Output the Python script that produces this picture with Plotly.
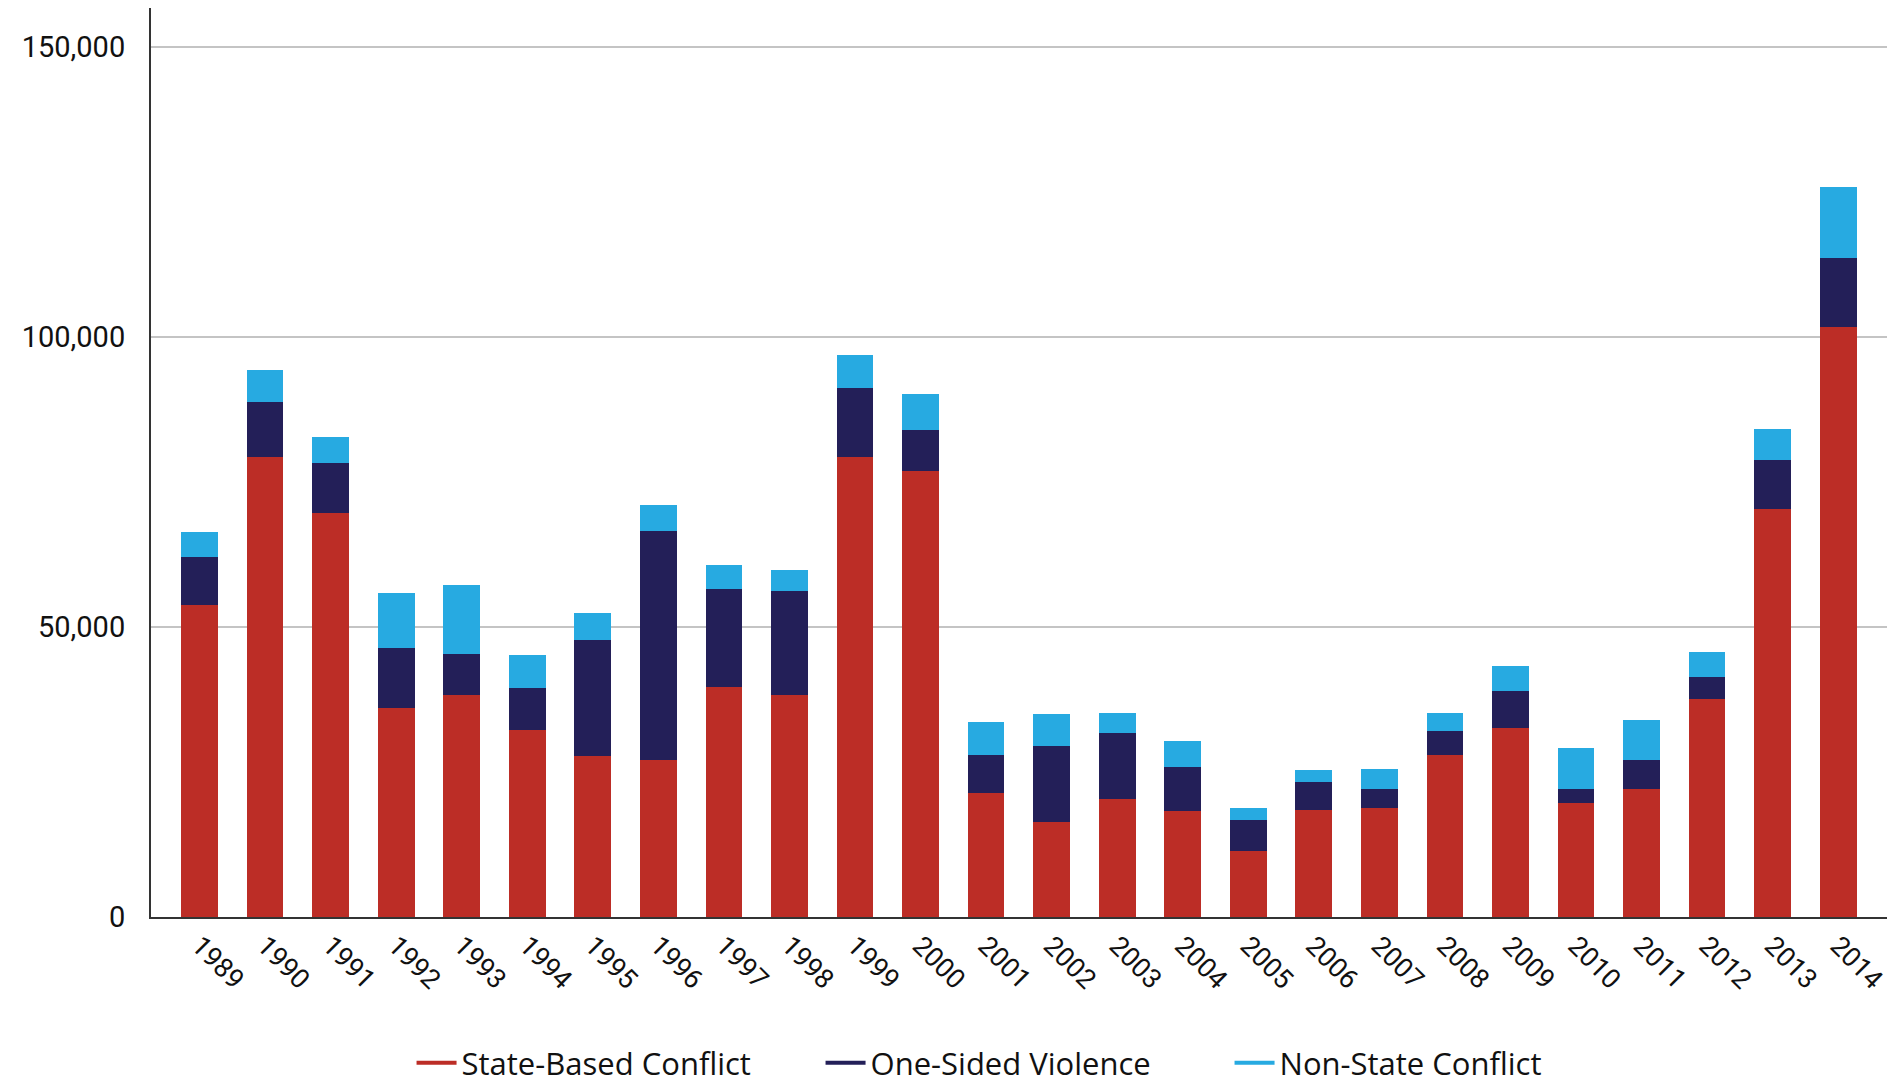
import plotly.graph_objects as go

years = [str(y) for y in range(1989, 2015)]

state_based = [53700, 79300, 69700, 36100, 38200, 32200, 27800, 27100, 39700, 38200,
               79300, 76800, 21300, 16300, 20300, 18200, 11300, 18400, 18800, 28000,
               32600, 19600, 22100, 37600, 70400, 101700]
one_sided = [8300, 9400, 8600, 10200, 7100, 7300, 20000, 39500, 16900, 18000,
             11900, 7100, 6700, 13100, 11500, 7700, 5400, 4800, 3300, 4000,
             6300, 2500, 5000, 3800, 8300, 11900]
non_state = [4400, 5600, 4400, 9600, 11900, 5600, 4600, 4400, 4000, 3700,
             5600, 6300, 5600, 5600, 3300, 4400, 2100, 2100, 3500, 3100,
             4400, 7100, 6900, 4200, 5400, 12300]

colors = {"State-Based Conflict": "#BC2D26",
          "One-Sided Violence": "#231F58",
          "Non-State Conflict": "#27AAE1"}

series = [("State-Based Conflict", state_based),
          ("One-Sided Violence", one_sided),
          ("Non-State Conflict", non_state)]

fig = go.Figure()
for name, vals in series:
    fig.add_trace(go.Bar(x=years, y=vals, name=name, marker_color=colors[name],
                         marker_line_width=0, showlegend=False))
for name, _ in series:
    fig.add_trace(go.Scatter(x=[None], y=[None], mode="lines", name=name,
                             line=dict(color=colors[name], width=4)))

# page body adds an 8px margin, so the figure is sized to fit the window
fig.update_layout(
    barmode="stack",
    bargap=0.44,
    width=1887, height=1077,
    margin=dict(l=143, r=7, t=0, b=168, autoexpand=False),
    plot_bgcolor="white", paper_bgcolor="white",
    font=dict(family="Roboto", size=28, color="#111111"),
    legend=dict(orientation="h", x=0.150, xanchor="left",
                y=-0.1606, yanchor="middle",
                font=dict(size=31, family="Open Sans"), itemwidth=40,
                entrywidth=354, traceorder="normal"),
)
fig.update_xaxes(type="category", range=[-0.74, 25.76], tickangle=45,
                 showline=True, linecolor="#333333", linewidth=2,
                 showgrid=False, ticks="", tickfont=dict(size=27), automargin=False)
fig.update_yaxes(range=[0, 156700], tickvals=[0, 50000, 100000, 150000],
                 tickformat=",", showline=True, mirror=True, linecolor="#333333",
                 linewidth=2, showgrid=True, gridcolor="#C4C4C4", gridwidth=1.5,
                 zeroline=False, ticks="", ticklabelstandoff=18, tickfont=dict(size=29),
                 automargin=False)

fig.write_html("out.html")
